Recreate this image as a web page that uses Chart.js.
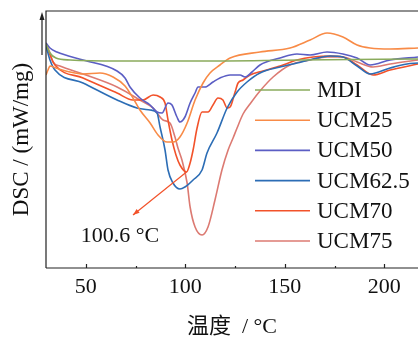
<!DOCTYPE html>
<html>
<head>
<meta charset="utf-8">
<script src="https://cdn.jsdelivr.net/npm/chart.js@4"></script>
<style>
  html, body { margin: 0; padding: 0; background: #fff; }
</style>
</head>
<body>
<canvas id="dsc" width="418" height="340"></canvas>
<script>
// series names + colours
const seriesNames = ["MDI", "UCM25", "UCM50", "UCM62.5", "UCM70", "UCM75"];
const seriesColors = ["#8aab5c", "#f88b47", "#5b5ec4", "#2c6db5", "#f2522a", "#dc7a72"];

// temperature (°C) / heat flow (arbitrary units, endo down)
const mdiT = [30, 32, 35, 42.1, 67.2, 107.4, 157.6, 216.9];
const mdiV = [224, 215, 210, 208, 207, 207, 208, 209];

const ucm25T = [30, 31, 32, 35, 42.1, 48.6, 57.1, 63.7, 69.7, 73.7, 77.2, 82.3, 86.3, 90.8, 93.8, 97.3, 100.9, 104.9, 108.9, 112.4, 117.4, 122.5, 137.5, 152.6, 162.7, 171.2, 179.2, 186.3, 192.8, 202.9, 216.9];
const ucm25V = [193, 198, 202, 200, 196, 194, 195, 191, 182, 170, 158, 145, 133, 126, 126, 131, 145, 168, 185, 195, 203, 210, 216, 220, 228, 235, 231, 223, 220, 219, 220];

const ucm50T = [30, 32, 35.5, 48.6, 65.7, 69.7, 72.2, 77.2, 82.3, 85.8, 88.3, 91.3, 93.3, 95.8, 97.3, 99.8, 102.4, 104.9, 106.4, 109.9, 113.9, 117.4, 122.5, 127.5, 130, 133.5, 137.5, 147.6, 156.1, 162.7, 171.2, 179.2, 186.3, 192.8, 202.9, 216.9];
const ucm50V = [225, 220, 216, 208, 197, 190, 181, 170, 163, 156, 155, 165, 163, 151, 146, 151, 165, 175, 181, 181, 186, 190, 193, 193, 191, 196, 203, 210, 214, 213, 216, 214, 210, 203, 208, 211];

const ucm625T = [30, 32, 34.5, 48.6, 65.7, 75.7, 82.3, 85.8, 87.3, 89.8, 91.3, 93.8, 97.3, 99.8, 103.9, 108.4, 110.9, 115.9, 121, 126, 131, 137.5, 147.6, 156.1, 164.2, 172.7, 179.2, 186.3, 192.8, 202.9, 211.4, 216.9];
const ucm625V = [222, 208, 198, 185, 168, 160, 158, 155, 141, 118, 98, 85, 79, 81, 88, 98, 115, 135, 160, 176, 186, 195, 201, 205, 209, 212, 211, 202, 194, 200, 204, 205];

const ucm70T = [30, 32, 34.5, 48.6, 65.7, 73.7, 78.7, 83.8, 87.3, 89.8, 91.3, 93.3, 95.3, 97.3, 100.6, 102.4, 103.9, 105.9, 108.4, 111.4, 113.9, 116.4, 118.9, 121, 122.5, 125, 126.5, 129, 132.5, 139, 147.6, 156.1, 164.2, 172.7, 179.2, 186.3, 194.3, 202.9, 216.9];
const ucm70V = [223, 213, 203, 190, 175, 168, 168, 173, 171, 165, 148, 128, 113, 103, 96, 105, 118, 140, 156, 156, 163, 170, 168, 160, 161, 176, 185, 188, 193, 197, 202, 208, 211, 212, 211, 203, 193, 198, 204];

const ucm75T = [30, 32, 33.5, 37, 48.6, 65.7, 77.2, 83.8, 88.8, 92.3, 94.8, 96.3, 98.3, 100.9, 102.4, 104.9, 108.4, 111.4, 114.9, 118.4, 121.5, 124, 126, 129, 132.5, 137.5, 144.1, 152.6, 162.7, 171.2, 179.2, 186.3, 194.3, 202.9, 216.9];
const ucm75V = [225, 215, 206, 202, 194, 181, 168, 160, 148, 145, 131, 120, 108, 85, 61, 41, 33, 41, 68, 98, 118, 130, 140, 154, 164, 177, 191, 203, 208, 211, 211, 206, 201, 204, 208];

const xTicks = [50, 100, 150, 200];
const xMinorTicks = [75, 125, 175];
const peakTemp = 100.6;
const peakLabel = "100.6 °C";

const serif = "'Liberation Serif', 'Times New Roman', 'Noto Sans CJK SC', serif";

function toPoints(t, v) {
    return t.map((x, i) => ({ x: x, y: v[i] }));
}

const allT = [mdiT, ucm25T, ucm50T, ucm625T, ucm70T, ucm75T];
const allV = [mdiV, ucm25V, ucm50V, ucm625V, ucm70V, ucm75V];

const datasets = seriesNames.map((name, i) => ({
    label: name,
    data: toPoints(allT[i], allV[i]),
    borderColor: seriesColors[i],
    borderWidth: 1.6,
    pointRadius: 0,
    fill: false,
    cubicInterpolationMode: "monotone",
}));

// frame, ticks, y arrow, legend and the peak note
const extras = {
    id: "extras",
    afterDatasetsDraw(chart) {
        const ctx = chart.ctx;
        const a = chart.chartArea;
        const xs = chart.scales.x;
        const ys = chart.scales.y;
        ctx.save();
        ctx.strokeStyle = "#222";
        ctx.fillStyle = "#222";
        ctx.lineWidth = 1.2;

        ctx.beginPath();
        ctx.moveTo(a.left, a.bottom);
        ctx.lineTo(a.left, a.top);
        ctx.lineTo(a.right, a.top);
        ctx.moveTo(a.left, a.bottom);
        ctx.lineTo(a.right, a.bottom);
        ctx.stroke();

        // inward ticks
        ctx.beginPath();
        xTicks.forEach((v) => {
            const px = Math.round(xs.getPixelForValue(v)) + 0.5;
            ctx.moveTo(px, a.bottom);
            ctx.lineTo(px, a.bottom - 4);
        });
        xMinorTicks.forEach((v) => {
            const px = Math.round(xs.getPixelForValue(v)) + 0.5;
            ctx.moveTo(px, a.bottom);
            ctx.lineTo(px, a.bottom - 2);
        });
        ctx.stroke();

        // endo/exo arrow beside y axis
        const ax = a.left - 4;
        ctx.beginPath();
        ctx.moveTo(ax, a.top + 44);
        ctx.lineTo(ax, a.top + 6);
        ctx.stroke();
        ctx.beginPath();
        ctx.moveTo(ax, a.top + 1);
        ctx.lineTo(ax - 2.5, a.top + 9);
        ctx.lineTo(ax + 2.5, a.top + 9);
        ctx.closePath();
        ctx.fill();

        // legend
        ctx.font = "23px " + serif;
        ctx.textBaseline = "middle";
        ctx.textAlign = "left";
        chart.data.datasets.forEach((ds, i) => {
            const ly = 90 + i * 30.2;
            ctx.strokeStyle = ds.borderColor;
            ctx.lineWidth = 1.6;
            ctx.beginPath();
            ctx.moveTo(255, ly);
            ctx.lineTo(310, ly);
            ctx.stroke();
            ctx.fillStyle = "#111";
            ctx.fillText(ds.label, 317, ly + 1);
        });

        // peak annotation
        const red = "#f2522a";
        const sx = xs.getPixelForValue(peakTemp);
        const sy = ys.getPixelForValue(96);
        const ex = xs.getPixelForValue(73.7);
        const ey = ys.getPixelForValue(53);
        ctx.strokeStyle = red;
        ctx.fillStyle = red;
        ctx.lineWidth = 1.2;
        ctx.beginPath();
        ctx.moveTo(sx, sy);
        ctx.lineTo(ex, ey);
        ctx.stroke();
        const ang = Math.atan2(ey - sy, ex - sx);
        ctx.beginPath();
        ctx.moveTo(ex, ey);
        ctx.lineTo(ex - 7 * Math.cos(ang - 0.35), ey - 7 * Math.sin(ang - 0.35));
        ctx.lineTo(ex - 7 * Math.cos(ang + 0.35), ey - 7 * Math.sin(ang + 0.35));
        ctx.closePath();
        ctx.fill();

        ctx.fillStyle = "#111";
        ctx.font = "22px " + serif;
        ctx.textAlign = "center";
        ctx.fillText(peakLabel, xs.getPixelForValue(67.2), ys.getPixelForValue(32));
        ctx.restore();
    },
};

const ctxDsc = document.getElementById("dsc").getContext("2d");

const myChart = new Chart(ctxDsc, {
    type: "line",
    data: { datasets: datasets },
    options: {
        responsive: false,
        animation: false,
        layout: { padding: { top: 11, right: 0, bottom: 0, left: 0 } },
        plugins: {
            legend: { display: false },
            tooltip: { enabled: false },
        },
        scales: {
            x: {
                type: "linear",
                min: 30,
                max: 216.9,
                grid: { display: false, drawTicks: false },
                border: { display: false },
                afterBuildTicks: (s) => {
                    s.ticks = xTicks.map((v) => ({ value: v }));
                },
                ticks: {
                    padding: 6,
                    color: "#111",
                    autoSkip: false,
                    maxRotation: 0,
                    font: { family: serif, size: 22 },
                },
                title: {
                    display: true,
                    text: "温度  / °C",
                    color: "#111",
                    font: { family: serif, size: 22 },
                    padding: { top: 0, bottom: 0 },
                },
                afterFit: (s) => {
                    s.height = 72;
                },
            },
            y: {
                min: 0,
                max: 257,
                grid: { display: false, drawTicks: false },
                border: { display: false },
                ticks: { display: false },
                title: {
                    display: true,
                    text: "DSC / (mW/mg)",
                    color: "#111",
                    font: { family: serif, size: 23 },
                    padding: { top: 8, bottom: 0 },
                },
                afterFit: (s) => {
                    s.width = 46;
                },
            },
        },
    },
    plugins: [extras],
});
</script>
</body>
</html>
